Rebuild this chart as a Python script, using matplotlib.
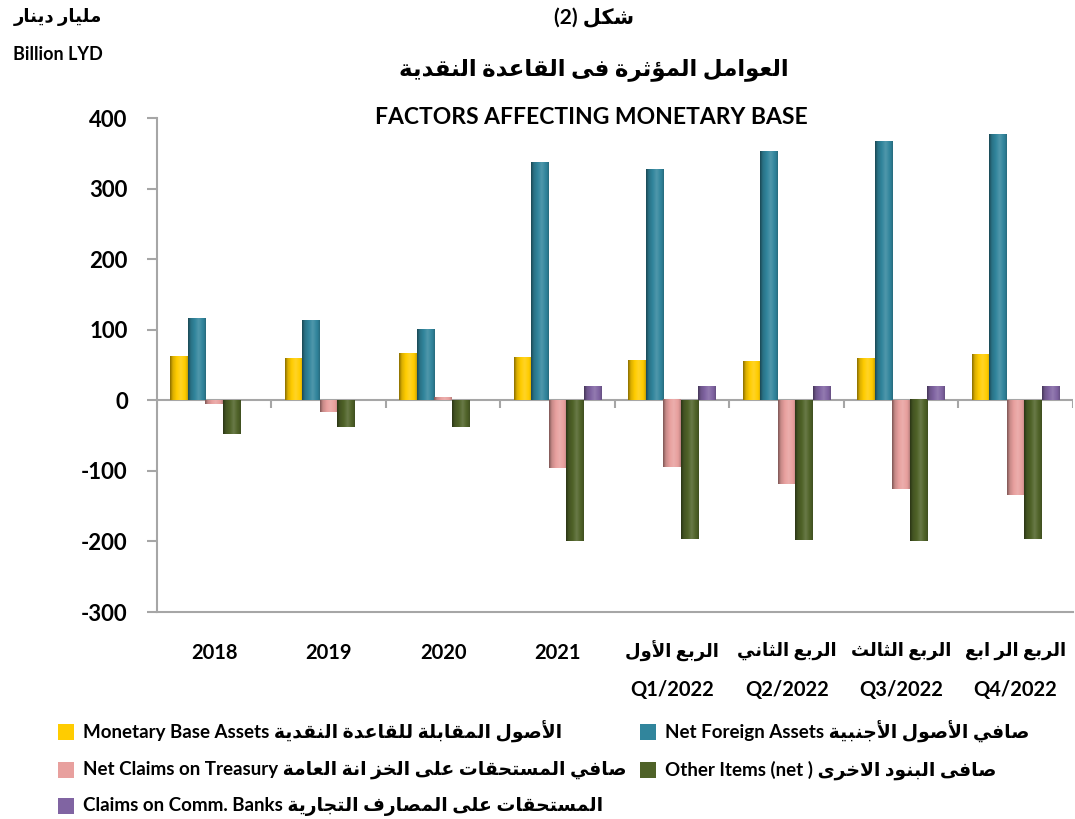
import matplotlib
matplotlib.use('Agg')
import matplotlib.pyplot as plt
import matplotlib.colors as mcolors
import matplotlib.transforms as mtransforms
from matplotlib.patches import Rectangle
import numpy as np

# ---- data (billion LYD) ----
periods = ['2018', '2019', '2020', '2021', 'Q1/2022', 'Q2/2022', 'Q3/2022', 'Q4/2022']
quarter_ar = {'Q1/2022': 'الربع الأول', 'Q2/2022': 'الربع الثاني',
              'Q3/2022': 'الربع الثالث', 'Q4/2022': 'الربع الر ابع'}

monetary_base_assets = [61, 59.5, 66.5, 60.5, 55.5, 54, 58.5, 64]
net_foreign_assets = [115, 113, 99.5, 337, 327, 352, 366, 376]
net_claims_treasury = [-5.5, -16, 3.5, -96, -95, -119, -126, -134.5]
other_items = [-48, -38, -37.5, -199, -196.5, -198, -200, -196.5]
claims_comm_banks = [0, 0, 0, 19.5, 19.5, 19.5, 19.5, 19.5]

series_en = ['Monetary Base Assets', 'Net Foreign Assets', 'Net Claims on Treasury',
             'Other Items (net )', 'Claims on Comm. Banks']
series_ar = ['الأصول المقابلة للقاعدة النقدية', 'صافي الأصول الأجنبية',
             'صافي المستحقات على الخز انة العامة', 'صافى البنود الاخرى',
             'المستحقات على المصارف التجارية']
colors = ['#FFCC00', '#31859C', '#E8A09E', '#4F6228', '#8064A2']

# ---- minimal Arabic shaping (matplotlib has no complex text layout) ----
AR_FORMS = {
    '\u0621': (0xFE80, 1), '\u0622': (0xFE81, 2), '\u0623': (0xFE83, 2), '\u0624': (0xFE85, 2),
    '\u0625': (0xFE87, 2), '\u0626': (0xFE89, 4), '\u0627': (0xFE8D, 2), '\u0628': (0xFE8F, 4),
    '\u0629': (0xFE93, 2), '\u062A': (0xFE95, 4), '\u062B': (0xFE99, 4), '\u062C': (0xFE9D, 4),
    '\u062D': (0xFEA1, 4), '\u062E': (0xFEA5, 4), '\u062F': (0xFEA9, 2), '\u0630': (0xFEAB, 2),
    '\u0631': (0xFEAD, 2), '\u0632': (0xFEAF, 2), '\u0633': (0xFEB1, 4), '\u0634': (0xFEB5, 4),
    '\u0635': (0xFEB9, 4), '\u0636': (0xFEBD, 4), '\u0637': (0xFEC1, 4), '\u0638': (0xFEC5, 4),
    '\u0639': (0xFEC9, 4), '\u063A': (0xFECD, 4), '\u0641': (0xFED1, 4), '\u0642': (0xFED5, 4),
    '\u0643': (0xFED9, 4), '\u0644': (0xFEDD, 4), '\u0645': (0xFEE1, 4), '\u0646': (0xFEE5, 4),
    '\u0647': (0xFEE9, 4), '\u0648': (0xFEED, 2), '\u0649': (0xFEEF, 2), '\u064A': (0xFEF1, 4),
}
LAM_ALEF = {'\u0622': (0xFEF5, 2), '\u0623': (0xFEF7, 2), '\u0625': (0xFEF9, 2), '\u0627': (0xFEFB, 2)}


def ar(text):
    toks = []
    i = 0
    while i < len(text):
        c = text[i]
        if c == '\u0644' and i + 1 < len(text) and text[i + 1] in LAM_ALEF:
            toks.append(LAM_ALEF[text[i + 1]])
            i += 2
        else:
            toks.append(AR_FORMS.get(c, c))
            i += 1
    out = []
    for k, t in enumerate(toks):
        if isinstance(t, str):
            out.append(t)
            continue
        base, n = t
        prev = toks[k - 1] if k > 0 else None
        nxt = toks[k + 1] if k + 1 < len(toks) else None
        jp = isinstance(prev, tuple) and prev[1] == 4 and n > 1
        jn = n == 4 and isinstance(nxt, tuple) and nxt[1] > 1
        form = 3 if (jp and jn) else 1 if jp else 2 if jn else 0
        out.append(chr(base + form))
    return ''.join(reversed(out))


plt.rcParams['font.family'] = ['Lato', 'DejaVu Sans']
plt.rcParams['axes.unicode_minus'] = False

fig = plt.figure(figsize=(10.75, 8.19), dpi=100)
ax = fig.add_axes([0.146, 0.2527, 0.852, 0.6032])

values = [monetary_base_assets, net_foreign_assets, net_claims_treasury, other_items, claims_comm_banks]
x = np.arange(len(periods))
w = 0.153


def shade(bars, color):
    rgb = np.array(mcolors.to_rgb(color))
    t = np.linspace(0, 1, 40)
    f = np.interp(t, [0, 0.15, 0.6, 0.9, 1], [0.55, 0.85, 1.15, 0.95, 0.8])
    cols = np.where(f[:, None] <= 1, rgb[None, :] * f[:, None],
                    rgb[None, :] + (1 - rgb[None, :]) * (f[:, None] - 1))
    img = np.clip(cols, 0, 1)[None, :, :]
    for b in bars:
        h = b.get_height()
        if h == 0:
            continue
        y0 = b.get_y()
        ax.imshow(img, extent=(b.get_x(), b.get_x() + b.get_width(), min(y0, y0 + h), max(y0, y0 + h)),
                  aspect='auto', interpolation='bilinear', zorder=3)


for j, (vals, c) in enumerate(zip(values, colors)):
    bars = ax.bar(x + (j - 2) * w, vals, w, color=c, zorder=2)
    shade(bars, c)

ax.axhline(0, color='#A6A6A6', lw=1.5, zorder=1)
ax.vlines(np.arange(len(periods) + 1) - 0.5, -11, 0, color='#A6A6A6', lw=1.5, zorder=1)

ax.set_xlim(-0.5, len(periods) - 0.5)
ax.set_ylim(-300, 400)
ax.set_yticks(np.arange(-300, 401, 100))
ax.tick_params(axis='y', length=7, width=1.5, color='#A6A6A6', pad=14)
for lab in ax.get_yticklabels():
    lab.set_fontsize(16)
    lab.set_fontweight('bold')

# x labels: years as tick labels, quarters as two lines (Arabic name over Qn/2022)
ax.set_xticks(x)
ax.set_xticklabels(['' if p in quarter_ar else p for p in periods], fontsize=14.5, fontweight='bold')
ax.tick_params(axis='x', length=0, pad=22)
trans = mtransforms.blended_transform_factory(ax.transData, ax.transAxes)
for i, p in enumerate(periods):
    if p in quarter_ar:
        ax.text(i, -0.079, ar(quarter_ar[p]), transform=trans, ha='center', va='center',
                fontsize=13, fontweight='bold')
        ax.text(i, -0.158, p, transform=trans, ha='center', va='center',
                fontsize=14.5, fontweight='bold')

for s in ['top', 'right']:
    ax.spines[s].set_visible(False)
for s in ['left', 'bottom']:
    ax.spines[s].set_color('#A6A6A6')
    ax.spines[s].set_linewidth(1.5)

# ---- titles ----
fig.text(0.5526, 0.978, '(2) ' + ar('شكل'), ha='center', va='center', fontsize=15, fontweight='bold')
fig.text(0.5526, 0.9145, ar('العوامل المؤثرة فى القاعدة النقدية'), ha='center', va='center',
         fontsize=16.5, fontweight='bold')
fig.text(0.55, 0.857, 'FACTORS AFFECTING MONETARY BASE', ha='center', va='center',
         fontsize=16.5, fontweight='bold')
fig.text(0.054, 0.979, ar('مليار دينار'), ha='center', va='center', fontsize=13, fontweight='bold')
fig.text(0.054, 0.933, 'Billion LYD', ha='center', va='center', fontsize=13, fontweight='bold')

# ---- legend (two columns, placed like the original) ----
order = [0, 2, 4, 1, 3]
slots = [(58, 732), (58, 770), (58, 806), (640, 732), (640, 770)]
W, H = 1075, 819
for k, (sx, sy) in zip(order, slots):
    fig.patches.append(Rectangle((sx / W, (H - sy - 8) / H), 16 / W, 16 / H,
                                 transform=fig.transFigure, facecolor=colors[k], edgecolor='none'))
    fig.text((sx + 25) / W, (H - sy) / H, series_en[k] + ' ' + ar(series_ar[k]),
             ha='left', va='center', fontsize=13.5, fontweight='bold')

fig.savefig('out.png', dpi=100)
